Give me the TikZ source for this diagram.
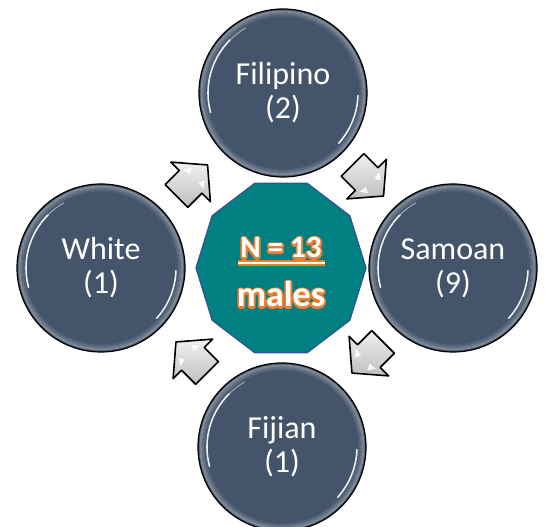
\documentclass[tikz,border=0pt]{standalone}
\usepackage{fontspec}
\setmainfont{Carlito}
\usetikzlibrary{calc}
\definecolor{slate}{HTML}{44546A}
\definecolor{tealc}{HTML}{008080}
\definecolor{decaedge}{HTML}{2F5597}
\definecolor{orng}{HTML}{ED7D31}
\newcommand{\strokedtext}[1]{\special{pdf:literal direct 0.929 0.490 0.192 RG 3.6 w 1 j 1 Tr}#1\special{pdf:literal direct 0 Tr}}
\tikzset{
  bubble/.style={circle, minimum size=168pt, inner sep=0pt, draw=black, line width=1.2pt,
    fill=slate, text=white, align=center, font=\fontsize{32}{34}\selectfont},
  deca/.style={draw=decaedge, line width=1.3pt, fill=tealc},
  ctext/.style={text=white, inner sep=0pt, anchor=base},
  blockarrow/.pic={
    \path[draw=black, line width=1.6pt, line join=round, top color=gray!12, bottom color=gray!50]
      (-22,16) -- (-2,16) -- (-2,28) -- (22,0) -- (-2,-28) -- (-2,-16) -- (-22,-16) -- cycle;
    \fill[white, opacity=0.85] (2,14) -- (9,9) -- (3,6) -- cycle;
    \fill[white, opacity=0.85] (2,-14) -- (9,-9) -- (3,-6) -- cycle;
  }
}
\begin{document}
\begin{tikzpicture}[x=1pt,y=1pt]
\useasboundingbox (0,0) rectangle (547,527);

% circles
\node[bubble] (fil) at (283,434) {Filipino\\(2)};
\node[bubble] (whi) at (101,259) {White\\(1)};
\node[bubble] (sam) at (453,259) {Samoan\\(9)};
\node[bubble] (fij) at (282,80) {Fijian\\(1)};

% gloss
\foreach \n in {fil,whi,sam,fij} {
  \draw[white, opacity=0.30, line width=2pt] (\n.center) circle (81.5);
  \draw[white, opacity=0.18, line width=2pt] (\n.center) circle (79.5);
  \draw[white, opacity=0.08, line width=2pt] (\n.center) circle (77.5);
  \draw[white, opacity=0.9, line width=1.6pt, line cap=round]
    ([shift={(135:75)}]\n.center) arc[start angle=135, end angle=195, radius=75];
  \draw[white, opacity=0.5, line width=1pt, line cap=round]
    ([shift={(120:75)}]\n.center) arc[start angle=120, end angle=135, radius=75];
  \draw[white, opacity=0.9, line width=1.6pt, line cap=round]
    ([shift={(318:75)}]\n.center) arc[start angle=318, end angle=358, radius=75];
}

% arrows
\pic[rotate=45]  at ($(whi)!0.5!(fil)$) {blockarrow};
\pic[rotate=-45] at ($(fil)!0.5!(sam)$) {blockarrow};
\pic[rotate=-135] at ($(sam)!0.5!(fij)$) {blockarrow};
\pic[rotate=135] at ($(fij)!0.5!(whi)$) {blockarrow};

% centre decagon
\coordinate (ctr) at (281,259);
\draw[deca, shift={(ctr)}] (0:85 and 89)
  \foreach \a in {36,72,...,324} { -- (\a:85 and 89) } -- cycle;

% centre text: orange stroked layer under white fill
\coordinate (ulL) at (238,264);
\coordinate (ulR) at (325,264);
\draw[orng, line width=5.5pt] (ulL) -- (ulR);
\draw[white, line width=2pt] (ulL) -- (ulR);
\node[ctext, font=\bfseries\fontsize{31}{34}\selectfont] (nglow) at (ctr |- 0,269) {\strokedtext{N = 13}};
\node[ctext, font=\bfseries\fontsize{36}{40}\selectfont] (mglow) at (ctr |- 0,220) {\strokedtext{males}};
\node[ctext, font=\bfseries\fontsize{31}{34}\selectfont] (ntext) at (ctr |- 0,269) {N = 13};
\node[ctext, font=\bfseries\fontsize{36}{40}\selectfont] (mtext) at (ctr |- 0,220) {males};
\end{tikzpicture}
\end{document}
